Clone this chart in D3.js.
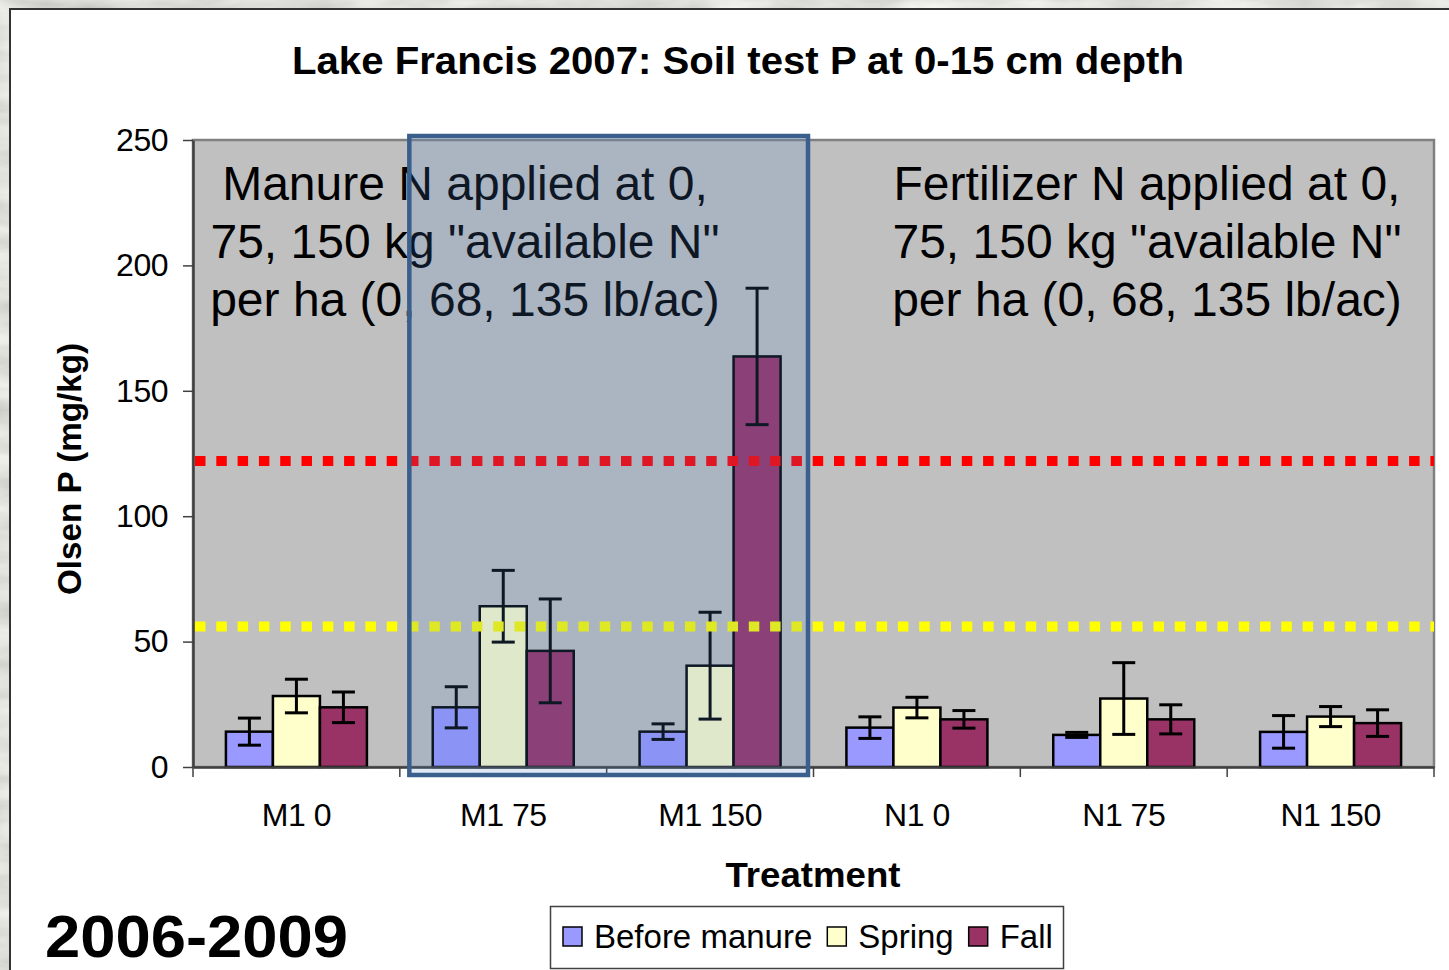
<!DOCTYPE html>
<html><head><meta charset="utf-8">
<script src="https://cdn.jsdelivr.net/npm/d3@7"></script>
<style>html,body{margin:0;padding:0;overflow:hidden;background:#d4d4cc}</style>
</head><body>
<svg id="chart" width="1449" height="970"></svg>
<script>
// ---------------- data ----------------
const categories = ["M1 0", "M1 75", "M1 150", "N1 0", "N1 75", "N1 150"];
const seriesNames = ["Before manure", "Spring", "Fall"];
const beforeValues = [14.1, 23.8, 14.1, 15.7, 12.8, 14.0];
const beforeErrors = [5.4, 8.2, 3.1, 4.3, 1.0, 6.5];
const springValues = [28.3, 64.1, 40.4, 23.7, 27.3, 20.1];
const springErrors = [6.7, 14.3, 21.3, 4.1, 14.3, 4.0];
const fallValues = [23.8, 46.3, 163.7, 19.0, 19.0, 17.5];
const fallErrors = [6.1, 20.7, 27.2, 3.5, 5.8, 5.3];
const seriesColors = ["#9999FF", "#FFFFCC", "#993366"];
const yTicks = [0, 50, 100, 150, 200, 250];
const thresholdValues = [122, 56];
const thresholdColors = ["#FF0000", "#FFFF00"];
const highlightCategories = ["M1 75", "M1 150"];
const manureLines = ["Manure N applied at 0,", "75, 150 kg \"available N\"", "per ha (0, 68, 135 lb/ac)"];
const fertilizerLines = ["Fertilizer N applied at 0,", "75, 150 kg \"available N\"", "per ha (0, 68, 135 lb/ac)"];
const titleText = "Lake Francis 2007: Soil test P at 0-15 cm depth";
const yTitle = "Olsen P (mg/kg)";
const xTitle = "Treatment";
const yearsText = "2006-2009";

// ---------------- build ----------------
const FONT = "'Liberation Sans', Arial, Helvetica, sans-serif";
const svg = d3.select("#chart");
const W = 1449, H = 970;

const valuesBySeries = [beforeValues, springValues, fallValues];
const errorsBySeries = [beforeErrors, springErrors, fallErrors];
const rows = [];
categories.forEach((c, i) => {
  seriesNames.forEach((s, j) => {
    rows.push({cat: c, series: s, idx: j, value: valuesBySeries[j][i], err: errorsBySeries[j][i]});
  });
});

// background marble-ish texture
const defs = svg.append("defs");
const f = defs.append("filter").attr("id", "marble").attr("x", 0).attr("y", 0).attr("width", "100%").attr("height", "100%");
f.append("feTurbulence").attr("type", "fractalNoise").attr("baseFrequency", "0.012 0.04").attr("numOctaves", 4).attr("seed", 3);
f.append("feColorMatrix").attr("type", "saturate").attr("values", 0);
f.append("feComponentTransfer").call(g => {
  g.append("feFuncR").attr("type", "linear").attr("slope", 0.6).attr("intercept", 0.45);
  g.append("feFuncG").attr("type", "linear").attr("slope", 0.6).attr("intercept", 0.45);
  g.append("feFuncB").attr("type", "linear").attr("slope", 0.6).attr("intercept", 0.42);
  g.append("feFuncA").attr("type", "linear").attr("slope", 0).attr("intercept", 1);
});
svg.append("rect").attr("width", W).attr("height", H).attr("filter", "url(#marble)");

// white chart area
svg.append("rect").attr("x", 10).attr("y", 9).attr("width", W).attr("height", H)
  .attr("fill", "#ffffff").attr("stroke", "#333333").attr("stroke-width", 2);

// scales
const plotL = 193, plotR = 1434, plotT = 140, plotB = 767;
const x = d3.scaleBand().domain(categories).range([plotL, plotR]).paddingInner(0).paddingOuter(0);
const y = d3.scaleLinear().domain([0, 250]).range([plotB, plotT]);
const bw = x.bandwidth();
const groupW = 141;
const xs = d3.scaleBand().domain(seriesNames).range([(bw - groupW) / 2, (bw + groupW) / 2]);

// plot area
svg.append("rect").attr("x", plotL).attr("y", plotT).attr("width", plotR - plotL).attr("height", plotB - plotT)
  .attr("fill", "#C0C0C0").attr("stroke", "#808080").attr("stroke-width", 2.5);

// bars
const barG = svg.append("g");
barG.selectAll("rect").data(rows).join("rect")
  .attr("x", d => x(d.cat) + xs(d.series))
  .attr("y", d => y(d.value))
  .attr("width", xs.bandwidth())
  .attr("height", d => y(0) - y(d.value))
  .attr("fill", d => seriesColors[d.idx])
  .attr("stroke", "#000").attr("stroke-width", 2.5);

// error bars
const capW = 23;
const errG = svg.append("g").attr("stroke", "#000").attr("stroke-width", 3);
rows.forEach(d => {
  const cx = x(d.cat) + xs(d.series) + xs.bandwidth() / 2;
  errG.append("line").attr("x1", cx).attr("x2", cx).attr("y1", y(d.value + d.err)).attr("y2", y(d.value - d.err));
  errG.append("line").attr("x1", cx - capW / 2).attr("x2", cx + capW / 2).attr("y1", y(d.value + d.err)).attr("y2", y(d.value + d.err));
  errG.append("line").attr("x1", cx - capW / 2).attr("x2", cx + capW / 2).attr("y1", y(d.value - d.err)).attr("y2", y(d.value - d.err));
});

// y axis
const yAxis = svg.append("g").attr("transform", `translate(${plotL},0)`)
  .call(d3.axisLeft(y).tickValues(yTicks).tickSize(10).tickSizeOuter(0).tickPadding(15));
yAxis.select(".domain").attr("stroke", "#404040").attr("stroke-width", 2.5);
yAxis.selectAll(".tick line").attr("stroke", "#404040").attr("stroke-width", 1.5);
yAxis.selectAll(".tick text").attr("font-family", FONT).attr("font-size", 32).attr("fill", "#000")
  .attr("letter-spacing", -0.5);

// x axis (labels at band centres, ticks at band edges)
const xAxis = svg.append("g").attr("transform", `translate(0,${plotB})`)
  .call(d3.axisBottom(x).tickSize(0).tickSizeOuter(0).tickPadding(36));
xAxis.select(".domain").attr("stroke", "#404040").attr("stroke-width", 2.5);
xAxis.selectAll(".tick text").attr("font-family", FONT).attr("font-size", 32).attr("fill", "#000")
  .attr("letter-spacing", -0.5);
const edges = categories.map(c => x(c)).concat([x.range()[1]]);
xAxis.selectAll(".edge").data(edges).join("line").attr("class", "edge")
  .attr("x1", d => d).attr("x2", d => d).attr("y1", 0).attr("y2", 10)
  .attr("stroke", "#404040").attr("stroke-width", 1.5);

// threshold lines
svg.append("g").selectAll("line").data(thresholdValues).join("line")
  .attr("x1", plotL + 2).attr("x2", plotR)
  .attr("y1", d => y(d)).attr("y2", d => y(d))
  .attr("stroke", (d, i) => thresholdColors[i]).attr("stroke-width", 10)
  .attr("stroke-dasharray", "10.5 10.8");

// annotation text blocks
function block(lines, cx) {
  const t = svg.append("text").attr("font-family", FONT).attr("font-size", 48).attr("fill", "#000").attr("text-anchor", "middle");
  lines.forEach((l, i) => t.append("tspan").attr("x", cx).attr("y", 200 + i * 58).text(l));
}
block(manureLines, 465);
block(fertilizerLines, 1147);

// titles
svg.append("text").attr("x", 738).attr("y", 74).attr("text-anchor", "middle")
  .attr("font-family", FONT).attr("font-weight", "bold").attr("font-size", 39)
  .attr("textLength", 892).attr("lengthAdjust", "spacingAndGlyphs").text(titleText);
svg.append("text").attr("transform", `translate(81,469) rotate(-90)`).attr("text-anchor", "middle")
  .attr("font-family", FONT).attr("font-weight", "bold").attr("font-size", 34)
  .attr("textLength", 252).attr("lengthAdjust", "spacingAndGlyphs").text(yTitle);
svg.append("text").attr("x", 813).attr("y", 887).attr("text-anchor", "middle")
  .attr("font-family", FONT).attr("font-weight", "bold").attr("font-size", 35)
  .attr("textLength", 175).attr("lengthAdjust", "spacingAndGlyphs").text(xTitle);
svg.append("text").attr("x", 45).attr("y", 957)
  .attr("font-family", FONT).attr("font-weight", "bold").attr("font-size", 60)
  .attr("textLength", 303).attr("lengthAdjust", "spacingAndGlyphs").text(yearsText);

// legend
const lg = svg.append("g");
lg.append("rect").attr("x", 550.5).attr("y", 906.5).attr("width", 513).attr("height", 62)
  .attr("fill", "#fff").attr("stroke", "#404040").attr("stroke-width", 1.5);
let lx = 563;
seriesNames.forEach((s, i) => {
  lg.append("rect").attr("x", lx).attr("y", 927).attr("width", 19).attr("height", 19)
    .attr("fill", seriesColors[i]).attr("stroke", "#000").attr("stroke-width", 1.5);
  const t = lg.append("text").attr("x", lx + 31).attr("y", 948).attr("font-family", FONT)
    .attr("font-size", 33).attr("fill", "#000").text(s);
  lx = lx + 31 + t.node().getComputedTextLength() + 15;
});

// highlight box over the manure treatments
const hx0 = x(highlightCategories[0]) + 9.5;
const hx1 = x(highlightCategories[1]) + bw - 5.5;
svg.append("rect").attr("x", hx0).attr("y", y(250) - 4).attr("width", hx1 - hx0).attr("height", (y(0) + 8) - (y(250) - 4))
  .attr("fill", "rgb(80,130,200)").attr("fill-opacity", 0.18)
  .attr("stroke", "#3B5F8C").attr("stroke-width", 4.5);
</script>
</body></html>
